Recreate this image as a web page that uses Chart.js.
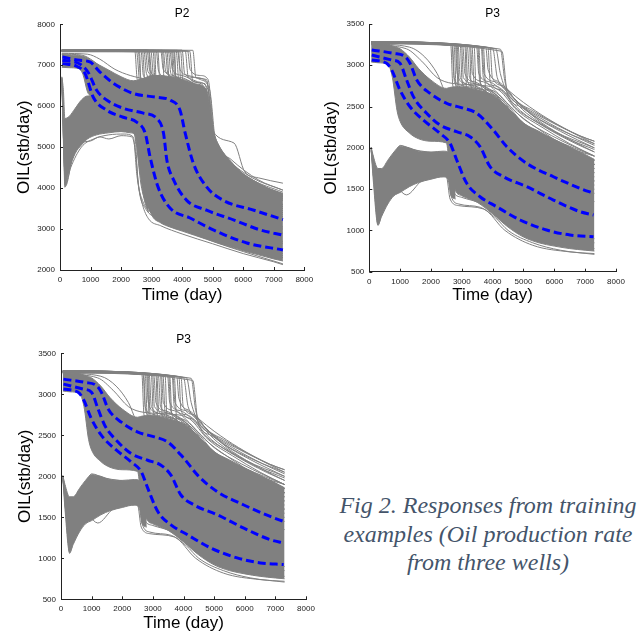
<!DOCTYPE html>
<html>
<head>
<meta charset="utf-8">
<script src="https://cdn.jsdelivr.net/npm/chart.js@4.4.1/dist/chart.umd.min.js"></script>
<style>
  html, body { margin: 0; padding: 0; background: #fff; }
  #wrap { position: relative; width: 639px; height: 636px; overflow: hidden; }
  canvas { position: absolute; }
  #caption {
    position: absolute; left: 330px; top: 491px; width: 316px;
    text-align: center; color: #44546a;
    font: italic 24px/28.5px "Liberation Serif", "Times New Roman", serif;
  }
</style>
</head>
<body>
<div id="wrap">
  <canvas id="p2" width="320" height="310" style="left:0;top:0"></canvas>
  <canvas id="p3a" width="319" height="310" style="left:320px;top:0"></canvas>
  <canvas id="p3b" width="320" height="316" style="left:0;top:320px"></canvas>
  <div id="caption">Fig 2. Responses from training<br>examples (Oil production rate<br>from three wells)</div>
</div>
<script>
// ---- axis ticks ----
const timeTicks = [0, 1000, 2000, 3000, 4000, 5000, 6000, 7000, 8000];
const p2OilTicks = [2000, 3000, 4000, 5000, 6000, 7000, 8000];
const p3OilTicks = [500, 1000, 1500, 2000, 2500, 3000, 3500];

// ---- well P2: percentile curves (blue dashed) ----
const p2BlueHigh = [[80,7200],[650,7120],[980,7080],[1300,6840],[1750,6560],[2400,6310],[3150,6220],[3600,6150],[3930,5900],[4100,5340],[4370,4600],[4800,4030],[5350,3700],[6350,3460],[7300,3230]];
const p2BlueMid = [[80,7120],[650,7030],[920,6830],[1200,6390],[1530,6150],[2070,5950],[2730,5830],[3170,5700],[3390,5340],[3500,4680],[3720,4200],[4150,3700],[4800,3460],[5700,3220],[6550,2980],[7300,2850]];
const p2BlueLow = [[80,7040],[560,6970],[820,6800],[1090,6220],[1530,5900],[2070,5730],[2510,5610],[2790,5340],[2950,4760],[3210,4030],[3610,3510],[4260,3270],[5020,2980],[6120,2660],[7300,2490]];

// P2 dense envelope of the ensemble (upper family and early-dip family)
const p2UpperTime = [60, 300, 600, 750, 900, 1000, 1300, 1600, 2000, 2400, 2600, 2800, 3000, 3300, 3600, 4000, 4400, 4800, 5000, 5200, 5600, 6000, 6500, 7000, 7300];
const p2UpperTop = [7260, 7250, 7240, 7220, 7180, 7130, 7000, 6880, 6720, 6620, 6650, 6700, 6750, 6750, 6720, 6650, 6550, 6400, 5450, 5050, 4650, 4350, 4100, 3950, 3870];
const p2UpperBottom = [6950, 6940, 6920, 6780, 6350, 6250, 6150, 6100, 6000, 5900, 5450, 3850, 3350, 3150, 3050, 2950, 2850, 2750, 2700, 2650, 2560, 2470, 2370, 2270, 2220];
const p2LowerTime = [60, 110, 160, 300, 500, 700, 900, 1200, 1600, 2000, 2300, 2450, 2600, 2750, 2900];
const p2LowerTop = [6720, 6400, 5700, 5750, 5950, 6150, 6250, 6250, 6200, 6150, 6100, 6050, 5600, 4600, 3800];
const p2LowerBottom = [6650, 5300, 4020, 4450, 4850, 5050, 5200, 5300, 5350, 5380, 5350, 5300, 4500, 3750, 3400];

// P2 single realisations: flat plateau then late drop
const p2LateDrops = [
  [[60,7360],[2450,7355],[2530,6650],[2800,6500],[3400,6400],[3900,6100],[4200,5100],[4800,4250],[6000,3700],[7300,3450]],
  [[60,7370],[2500,7365],[2620,6500],[2800,6300],[3500,6200],[3900,5800],[4300,4700],[5000,3900],[6000,3550],[7300,3300]],
  [[60,7365],[2560,7360],[2640,6700],[2900,6550],[3500,6350],[3900,6000],[4200,5000],[4800,4200],[6000,3650],[7300,3400]],
  [[60,7340],[2600,7335],[2680,6000],[2900,5800],[3300,5650],[3500,4800],[3800,3900],[4500,3400],[6000,2950],[7300,2700]],
  [[60,7370],[2650,7365],[2730,6750],[3000,6600],[3500,6450],[3950,6150],[4250,5200],[4900,4350],[6200,3750],[7300,3500]],
  [[60,7350],[2700,7345],[2800,6400],[3100,6250],[3700,6050],[4000,5400],[4400,4500],[5200,3800],[6400,3450],[7300,3250]],
  [[60,7345],[2750,7340],[2830,6800],[3100,6600],[3600,6450],[4000,6200],[4300,5200],[4900,4300],[6200,3700],[7300,3450]],
  [[60,7350],[2800,7345],[2880,6850],[3200,6700],[3700,6550],[4100,6300],[4400,5300],[5000,4400],[6300,3850],[7300,3600]],
  [[60,7375],[2850,7370],[2930,6900],[3200,6700],[3700,6550],[4100,6300],[4400,5100],[5000,4350],[6300,3800],[7300,3550]],
  [[60,7380],[2900,7370],[3000,6300],[3300,6150],[3700,5900],[4100,4800],[4600,4200],[5600,3750],[7300,3350]],
  [[60,7340],[2920,7335],[3000,6800],[3300,6650],[3800,6500],[4200,6200],[4500,5000],[5100,4300],[6400,3800],[7300,3550]],
  [[60,7340],[2980,7335],[3060,6750],[3400,6600],[3900,6400],[4300,5800],[4600,4800],[5300,4100],[6500,3700],[7300,3500]],
  [[60,7340],[3050,7330],[3150,6000],[3600,5500],[4000,4300],[4800,3700],[6000,3300],[7300,3050]],
  [[60,7360],[3100,7355],[3180,5600],[3400,4500],[3700,3800],[4500,3300],[6000,2900],[7300,2650]],
  [[60,7360],[3150,7355],[3230,6850],[3500,6700],[4000,6500],[4400,6200],[4700,5100],[5200,4500],[6400,3950],[7300,3700]],
  [[60,7360],[3200,7350],[3300,6200],[3700,5900],[4100,5000],[4600,4300],[5600,3800],[7300,3400]],
  [[60,7370],[3300,7360],[3380,6900],[3700,6750],[4200,6550],[4600,6350],[4900,5300],[5400,4600],[6500,4050],[7300,3800]],
  [[60,7375],[3350,7365],[3450,5800],[3800,5000],[4200,4000],[5000,3500],[6200,3200],[7300,3000]],
  [[60,7365],[3380,7360],[3460,6850],[3800,6700],[4200,6550],[4600,6300],[4900,5200],[5500,4500],[6600,4000],[7300,3800]],
  [[60,7350],[3450,7345],[3530,6800],[3900,6650],[4300,6450],[4700,6200],[4950,5000],[5600,4400],[6600,3950],[7300,3750]],
  [[60,7345],[3500,7335],[3600,6300],[4000,5800],[4400,4900],[5000,4200],[6000,3800],[7300,3500]],
  [[60,7355],[3550,7350],[3630,6800],[3950,6700],[4400,6550],[4750,6300],[5000,5100],[5600,4450],[6700,3950],[7300,3750]],
  [[60,7335],[3600,7330],[3680,6900],[4000,6750],[4500,6600],[4850,6400],[5050,5200],[5600,4550],[6600,4000],[7300,3800]],
  [[60,7355],[3650,7350],[3750,6000],[4100,5300],[4500,4500],[5200,3900],[6300,3500],[7300,3300]],
  [[60,7345],[3680,7340],[3760,6750],[4050,6650],[4500,6500],[4850,6200],[5050,5000],[5700,4400],[6800,3950],[7300,3800]],
  [[60,7365],[3720,7360],[3800,6700],[4100,6600],[4500,6450],[4800,6000],[5000,4900],[5700,4300],[6700,3900],[7300,3700]],
  [[60,7335],[3750,7330],[3850,5000],[4100,4200],[4800,3600],[6000,3150],[7300,2900]],
  [[60,7365],[3800,7360],[3900,6500],[4300,6000],[4700,5200],[5100,4500],[6000,4000],[7300,3700]],
  [[60,7370],[3850,7365],[3930,6900],[4200,6750],[4600,6650],[4900,6400],[5100,5100],[5700,4500],[6800,4000],[7300,3850]],
  [[60,7345],[3880,7340],[3960,6600],[4300,6500],[4700,6350],[4900,5500],[5200,4700],[6000,4150],[7300,3750]],
  [[60,7330],[3950,7325],[4050,6200],[4400,5700],[4800,4800],[5400,4100],[6400,3700],[7300,3500]],
  [[60,7375],[4000,7370],[4080,6800],[4400,6700],[4800,6600],[5000,5500],[5400,4800],[6200,4250],[7300,3900]],
  [[60,7370],[4100,7360],[4200,6700],[4700,6500],[4900,5400],[5300,4700],[6300,4200],[7300,3800]],
  [[60,7355],[4180,7350],[4260,6900],[4600,6750],[4850,6650],[5050,5300],[5600,4700],[6500,4200],[7300,3950]],
  [[60,7350],[4250,7340],[4350,6600],[4750,6550],[4950,5300],[5500,4600],[6500,4100],[7300,3850]],
  [[60,7375],[4350,7365],[4450,6700],[4800,6650],[5000,5400],[5700,5100],[6050,4400],[6500,4250],[7300,4120]]
];
// P2 single realisations: early dip, plateau, drop near 2500 days
const p2EarlyDips = [
  [[60,6700],[180,4050],[400,4700],[700,5100],[1000,5150],[1300,5250],[1600,5200],[2000,5280],[2350,5250],[2450,5000],[2600,3900],[2800,3500],[3200,3250],[4000,3000],[5000,2700],[6000,2450],[7300,2150]],
  [[60,6650],[200,4300],[500,5000],[800,5300],[1100,5400],[1500,5450],[1900,5380],[2300,5400],[2450,5300],[2550,4200],[2700,3700],[3000,3400],[4000,3100],[5500,2700],[7300,2300]],
  [[60,6600],[190,4600],[450,5200],[800,5550],[1200,5600],[1700,5500],[2200,5550],[2500,5450],[2600,4600],[2750,3900],[3100,3450],[4200,3150],[6000,2600],[7300,2350]],
  [[60,6680],[170,4900],[400,5600],[700,5950],[1000,5850],[1400,5800],[1900,5750],[2400,5700],[2550,5400],[2700,4400],[2900,3800],[3500,3350],[5000,2850],[7300,2400]],
  [[60,6620],[180,4100],[350,4500],[700,5000],[1100,5200],[1600,5300],[2100,5320],[2400,5250],[2520,4300],[2700,3600],[2900,3250],[3300,3080],[4000,2880],[5000,2640],[6000,2400],[7000,2200],[7300,2130]],
  [[60,6700],[150,4500],[350,4900],[600,5300],[900,5500],[1300,5450],[1800,5500],[2200,5450],[2400,5400],[2500,5100],[2650,4100],[2850,3600],[3300,3300],[4300,3050],[5500,2750],[7300,2300]]
];
const p2EarlyDrops = [
  [[60,7290],[900,7270],[1300,7150],[1800,6900],[2300,6750],[2900,6650],[3700,6550],[4300,6450],[4700,6300],[5000,5200],[5500,4700],[6300,4250],[7300,3950]],
  [[60,7270],[700,7250],[1100,7100],[1500,6850],[2000,6650],[2600,6550],[3400,6450],[3800,6250],[4100,5400],[4500,4700],[5300,4100],[6400,3750],[7300,3600]]
];

// ---- well P3: percentile curves (blue dashed) ----
const p3BlueHigh = [[80,3185],[780,3145],[1160,3105],[1320,3024],[1540,2822],[1970,2660],[2510,2540],[3050,2480],[3480,2420],[4020,2216],[4460,2014],[5100,1813],[5970,1650],[6830,1510],[7270,1450]];
const p3BlueMid = [[80,3124],[725,3064],[995,3024],[1210,2822],[1430,2620],[1860,2418],[2290,2277],[2830,2196],[3265,2135],[3590,2014],[3915,1772],[4350,1650],[5105,1530],[5970,1368],[6830,1227],[7270,1187]];
const p3BlueLow = [[80,3064],[560,3024],[725,2943],[995,2700],[1320,2498],[1750,2337],[2290,2176],[2620,2055],[2835,1853],[3160,1570],[3590,1408],[4130,1287],[4890,1126],[5750,1005],[6510,944],[7270,924]];

const p3UpperTime = [60, 300, 600, 750, 900, 1000, 1300, 1600, 2000, 2500, 2600, 2800, 3000, 3500, 4000, 4500, 5000, 5500, 6000, 6500, 7000, 7300];
const p3UpperTop = [3270, 3260, 3250, 3235, 3215, 3200, 3100, 2960, 2820, 2720, 2730, 2740, 2740, 2700, 2640, 2480, 2300, 2200, 2100, 2010, 1920, 1860];
const p3UpperBottom = [3040, 3030, 3010, 2850, 2450, 2320, 2180, 2110, 2080, 2060, 1800, 1480, 1420, 1340, 1200, 1040, 920, 850, 810, 780, 760, 750];
const p3LowerTime = [60, 130, 280, 400, 600, 800, 1000, 1300, 1600, 2000, 2400, 2550, 2650, 2800];
const p3LowerTop = [2010, 1900, 1750, 1750, 1850, 1950, 2020, 2000, 1960, 1950, 1960, 1950, 1900, 1750];
const p3LowerBottom = [1980, 1600, 1070, 1170, 1320, 1420, 1460, 1530, 1580, 1620, 1650, 1620, 1420, 1380];

const p3LateDrops = [
  [[60,3285],[2640,3245],[2710,2750],[2900,2650],[3500,2580],[4000,2400],[4500,2050],[5500,1800],[6500,1620],[7300,1500]],
  [[60,3280],[2680,3245],[2750,2850],[2950,2760],[3400,2720],[3900,2600],[4400,2300],[5200,2000],[6300,1750],[7300,1600]],
  [[60,3280],[2700,3245],[2760,2800],[3000,2720],[3500,2680],[4000,2550],[4500,2300],[5300,2050],[6400,1800],[7300,1650]],
  [[60,3270],[2750,3240],[2820,2700],[3000,2620],[3600,2550],[4100,2300],[4600,2000],[5600,1750],[7300,1450]],
  [[60,3270],[2790,3245],[2850,2900],[3100,2780],[3600,2700],[4100,2550],[4600,2250],[5500,2000],[6500,1800],[7300,1700]],
  [[60,3280],[2820,3245],[2890,2620],[3300,2570],[3800,2480],[4300,2200],[5000,1950],[6200,1700],[7300,1550]],
  [[60,3270],[2850,3240],[2910,2750],[3200,2700],[3700,2640],[4200,2480],[4700,2250],[5500,2050],[6600,1850],[7300,1750]],
  [[60,3285],[2880,3245],[2950,2850],[3300,2760],[3800,2680],[4300,2500],[4900,2250],[5800,2050],[7300,1800]],
  [[60,3275],[2950,3240],[3010,2800],[3200,2700],[3700,2600],[4200,2450],[4800,2150],[6000,1900],[7300,1700]],
  [[60,3285],[2990,3240],[3050,2850],[3400,2780],[3900,2680],[4400,2520],[5000,2300],[6000,2080],[7300,1850]],
  [[60,3265],[3030,3235],[3100,2900],[3400,2800],[3900,2700],[4400,2550],[5000,2300],[6000,2100],[7300,1900]],
  [[60,3265],[3100,3230],[3170,2550],[3500,2480],[4000,2350],[4500,2050],[5500,1750],[7300,1350]],
  [[60,3275],[3130,3235],[3190,2800],[3500,2720],[4000,2620],[4500,2400],[5200,2200],[6200,2000],[7300,1800]],
  [[60,3280],[3180,3230],[3250,2850],[3600,2760],[4100,2650],[4600,2400],[5300,2200],[6300,2000],[7300,1850]],
  [[60,3285],[3250,3235],[3310,2700],[3700,2650],[4200,2500],[4700,2250],[5800,2000],[7300,1750]],
  [[60,3265],[3280,3230],[3340,2900],[3700,2800],[4200,2650],[4700,2450],[5400,2250],[6500,2000],[7300,1900]],
  [[60,3275],[3330,3230],[3400,2780],[3800,2700],[4300,2580],[4800,2350],[5600,2150],[6600,1950],[7300,1800]],
  [[60,3270],[3400,3225],[3470,2620],[3900,2500],[4400,2250],[5200,1950],[6500,1700],[7300,1600]],
  [[60,3285],[3480,3225],[3550,2900],[3900,2800],[4400,2650],[4900,2450],[5700,2250],[6700,2050],[7300,1950]],
  [[60,3280],[3520,3225],[3580,2800],[3950,2700],[4450,2550],[5000,2350],[5900,2150],[7300,1900]],
  [[60,3280],[3550,3225],[3620,2750],[4000,2650],[4500,2450],[5200,2200],[6300,1950],[7300,1800]],
  [[60,3270],[3630,3220],[3700,2850],[4100,2750],[4600,2600],[5100,2420],[6000,2200],[7300,2000]],
  [[60,3270],[3660,3220],[3720,2900],[4100,2800],[4600,2620],[5200,2420],[6200,2200],[7300,2000]],
  [[60,3275],[3700,3215],[3780,2680],[4200,2580],[4700,2350],[5500,2150],[6500,1950],[7300,1850]],
  [[60,3280],[3780,3215],[3850,2950],[4200,2800],[4700,2600],[5300,2400],[6300,2200],[7300,2050]],
  [[60,3285],[3850,3215],[3920,2800],[4300,2700],[4700,2500],[5500,2300],[6500,2100],[7300,1980]],
  [[60,3285],[3920,3212],[3990,2850],[4350,2750],[4800,2550],[5600,2350],[6600,2150],[7300,2030]],
  [[60,3275],[4000,3205],[4150,2850],[4500,2700],[5000,2550],[5800,2350],[6800,2150],[7300,2080]],
  [[60,3280],[4100,3200],[4250,2900],[4500,2650],[5000,2500],[5700,2350],[6500,2200],[7300,2050]],
  [[60,3285],[4250,3195],[4400,2800],[4700,2600],[5300,2450],[6000,2300],[6800,2150],[7300,2080]],
  [[60,3260],[4300,3170],[4480,2650],[4900,2500],[5600,2300],[6500,2100],[7300,1950]],
  [[60,3250],[1200,3200],[1700,3050],[2200,2850],[2700,2780],[3500,2760],[4200,2700],[4800,2450],[5600,2250],[6500,2050],[7300,1900]],
  [[60,3260],[1300,3220],[1800,3100],[2200,2900],[2550,2620],[3200,2550],[4000,2450],[4600,2300],[5500,2100],[6500,1900],[7300,1800]]
];
const p3EarlyDips = [
  [[60,2000],[150,1800],[280,1060],[400,1200],[600,1450],[900,1600],[1300,1680],[1800,1720],[2300,1750],[2550,1720],[2650,1420],[2900,1320],[3600,1280],[4100,1150],[4500,1000],[5300,850],[6200,760],[7300,710]],
  [[60,1980],[130,1750],[250,1200],[450,1400],[700,1650],[1000,1800],[1500,1850],[2000,1870],[2400,1880],[2550,1850],[2680,1500],[3000,1400],[3600,1330],[4200,1200],[5000,980],[6000,850],[7300,780]],
  [[60,2010],[150,1600],[300,1300],[500,1650],[800,1900],[1000,2030],[1400,1980],[1900,1950],[2400,1920],[2600,1880],[2700,1600],[3200,1500],[4000,1420],[4800,1150],[6000,950],[7300,850]],
  [[60,1990],[200,1400],[300,1150],[550,1350],[900,1500],[1200,1430],[1700,1600],[2200,1650],[2500,1650],[2620,1380],[2900,1300],[3700,1260],[4400,1000],[5300,820],[6500,740],[7300,720]],
  [[60,1960],[160,1700],[350,1500],[650,1800],[1000,1950],[1500,1900],[2000,1850],[2500,1860],[2700,1800],[3000,1700],[3600,1600],[4200,1450],[5000,1250],[6000,1050],[7300,900]]
];

// ---- styling helpers ----
const SANS = '"Liberation Sans", Arial, Helvetica, sans-serif';
const GREY = '#808080';

function greyLine(pts) {
  return { data: pts, borderColor: GREY, borderWidth: 1, pointRadius: 0, fill: false,
           cubicInterpolationMode: 'monotone', order: 2 };
}
function band(times, top, bottom) {
  return [
    { data: times.map((t, i) => [t, top[i]]), borderColor: GREY, backgroundColor: GREY, borderWidth: 1,
      pointRadius: 0, fill: false, cubicInterpolationMode: 'monotone', order: 3 },
    { data: times.map((t, i) => [t, bottom[i]]), borderColor: GREY, backgroundColor: GREY, borderWidth: 1,
      pointRadius: 0, fill: '-1', cubicInterpolationMode: 'monotone', order: 3 }
  ];
}
function blueLine(pts) {
  return { data: pts, borderColor: '#0000ff', borderWidth: 3, borderDash: [8, 4], borderCapStyle: 'butt',
           pointRadius: 0, fill: false, cubicInterpolationMode: 'monotone', order: 0 };
}

// MATLAB style: short tick marks pointing into the axes
const inwardTicks = {
  id: 'inwardTicks',
  afterDraw(chart) {
    const { ctx, chartArea: a, scales: { x, y } } = chart;
    ctx.save();
    ctx.strokeStyle = '#222';
    ctx.lineWidth = 1;
    ctx.beginPath();
    x.ticks.forEach(t => {
      const px = Math.round(x.getPixelForValue(t.value)) + 0.5;
      ctx.moveTo(px, a.bottom); ctx.lineTo(px, a.bottom - 3);
    });
    y.ticks.forEach(t => {
      const py = Math.round(y.getPixelForValue(t.value)) + 0.5;
      ctx.moveTo(a.left, py); ctx.lineTo(a.left + 3, py);
    });
    ctx.stroke();
    ctx.restore();
  }
};

function makePanel(id, cfg) {
  const yTicks = cfg.yTicks;
  new Chart(document.getElementById(id), {
    type: 'line',
    data: { datasets: cfg.datasets },
    options: {
      responsive: false,
      animation: false,
      events: [],
      layout: { padding: { left: 0, top: 0, right: cfg.padRight, bottom: 0 } },
      plugins: {
        legend: { display: false },
        tooltip: { enabled: false },
        title: {
          display: true, text: cfg.title, fullSize: false, color: '#000',
          font: { family: SANS, size: 12, weight: 'normal' },
          padding: { top: cfg.titleTop, bottom: cfg.titleBottom }
        }
      },
      scales: {
        x: {
          type: 'linear', min: timeTicks[0], max: timeTicks[timeTicks.length - 1],
          afterFit: s => { s.height = cfg.xHeight; },
          afterBuildTicks: s => { s.ticks = timeTicks.map(v => ({ value: v })); },
          grid: { display: false, drawTicks: false },
          border: { display: true, color: '#222', width: 1 },
          ticks: { autoSkip: false, maxRotation: 0, padding: 5, color: '#222',
                   font: { family: SANS, size: 8 }, callback: v => String(v) },
          title: { display: true, text: 'Time (day)', color: '#000',
                   font: { family: SANS, size: 17 }, padding: { top: 0, bottom: cfg.xTitlePad } }
        },
        y: {
          type: 'linear', min: yTicks[0], max: yTicks[yTicks.length - 1],
          afterFit: s => { s.width = cfg.yWidth; },
          afterBuildTicks: s => { s.ticks = yTicks.map(v => ({ value: v })); },
          grid: { display: false, drawTicks: false },
          border: { display: true, color: '#222', width: 1 },
          ticks: { autoSkip: false, padding: 5, color: '#222',
                   font: { family: SANS, size: 8 }, callback: v => String(v) },
          title: { display: true, text: 'OIL(stb/day)', color: '#000',
                   font: { family: SANS, size: 17 }, padding: { top: cfg.yTitlePad, bottom: 0 } }
        }
      }
    },
    plugins: [inwardTicks]
  });
}

function p2Datasets() {
  return [
    blueLine(p2BlueHigh), blueLine(p2BlueMid), blueLine(p2BlueLow),
    ...band(p2UpperTime, p2UpperTop, p2UpperBottom),
    ...band(p2LowerTime, p2LowerTop, p2LowerBottom),
    ...p2LateDrops.map(greyLine), ...p2EarlyDips.map(greyLine), ...p2EarlyDrops.map(greyLine)
  ];
}
function p3Datasets() {
  return [
    blueLine(p3BlueHigh), blueLine(p3BlueMid), blueLine(p3BlueLow),
    ...band(p3UpperTime, p3UpperTop, p3UpperBottom),
    ...band(p3LowerTime, p3LowerTop, p3LowerBottom),
    ...p3LateDrops.map(greyLine), ...p3EarlyDips.map(greyLine)
  ];
}

makePanel('p2', { title: 'P2', datasets: p2Datasets(), yTicks: p2OilTicks,
  padRight: 15.7, yWidth: 60, xHeight: 40, titleTop: 6.1, titleBottom: 3.8, xTitlePad: 4.8, yTitlePad: 13.8 });
makePanel('p3a', { title: 'P3', datasets: p3Datasets(), yTicks: p3OilTicks,
  padRight: 23, yWidth: 49.3, xHeight: 38.3, titleTop: 6.1, titleBottom: 3.5, xTitlePad: 4.8, yTitlePad: 1.5 });
makePanel('p3b', { title: 'P3', datasets: p3Datasets(), yTicks: p3OilTicks,
  padRight: 14, yWidth: 61, xHeight: 36.7, titleTop: 12.8, titleBottom: 6.1, xTitlePad: 2.8, yTitlePad: 14.8 });
</script>
</body>
</html>
